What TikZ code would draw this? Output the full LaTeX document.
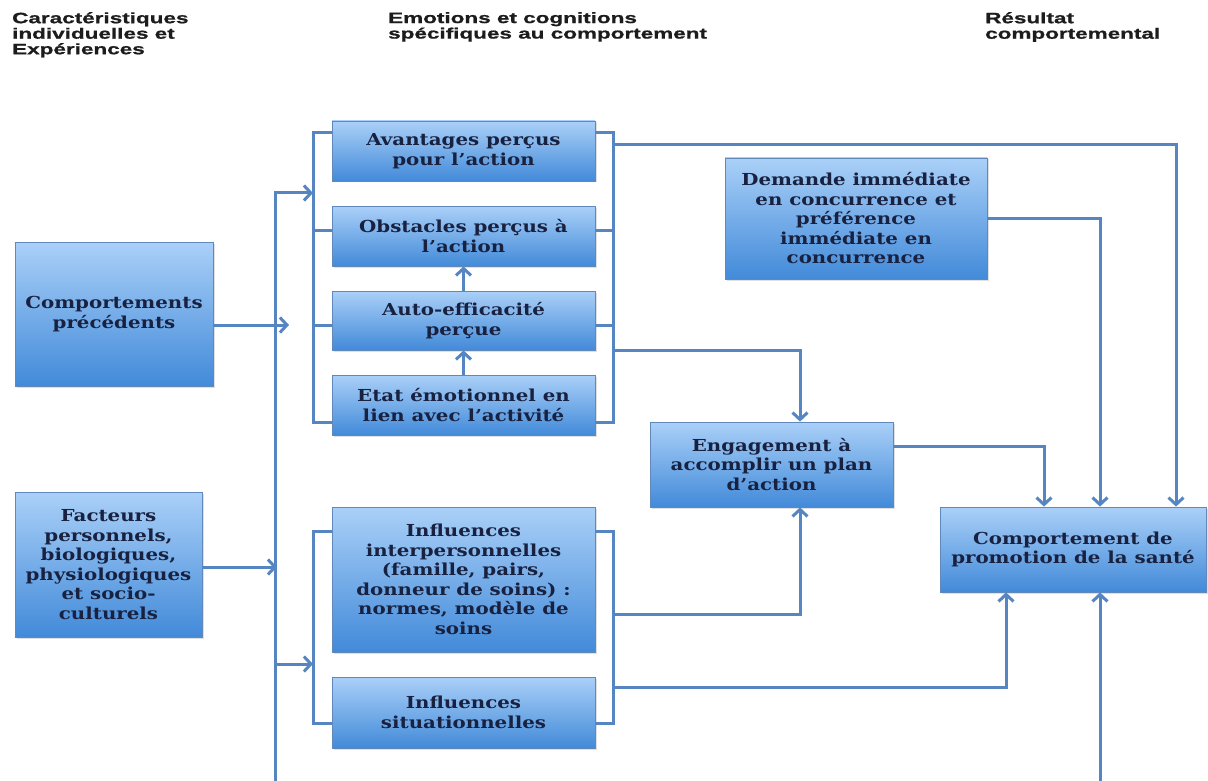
\documentclass[tikz,border=0pt]{standalone}
\usepackage{fontspec}
\usetikzlibrary{arrows.meta,shadows,calc}
\newfontfamily\headfont[FakeStretch=1.5,FakeBold=0.8]{Liberation Sans}
\newfontfamily\boxfont[FakeStretch=1.2]{DejaVu Serif}
\definecolor{boxtop}{RGB}{170,208,248}
\definecolor{boxbot}{RGB}{66,138,217}
\definecolor{boxedge}{RGB}{96,136,186}
\definecolor{boxtext}{RGB}{24,33,64}
\definecolor{link}{RGB}{86,134,194}
\definecolor{headtext}{RGB}{28,28,28}

\begin{document}
\begin{tikzpicture}[x=1pt,y=-1pt,
  box/.style={draw=boxedge, line width=0.8pt, top color=boxtop, bottom color=boxbot,
    align=center, inner sep=0pt, text=boxtext,
    font=\boxfont\bfseries\fontsize{16.5}{19.5}\selectfont,
    drop shadow={opacity=0.25, shadow xshift=1.5pt, shadow yshift=-1.5pt}},
  head/.style={anchor=north west, align=left, inner sep=0pt, text=headtext,
    font=\headfont\bfseries\fontsize{15}{15.5}\selectfont},
  conn/.style={draw=link, line width=3pt},
  arr/.style={conn, -{Straight Barb[length=7pt,width=15pt]}},
]
\fill[white] (0,0) rectangle (1208,781);
\useasboundingbox (0,0) rectangle (1208,781);

% column headings
\node[head] (h1) at (12,12) {Caractéristiques\\individuelles et\\Expériences};
\node[head] (h2) at (388,12) {Emotions et cognitions\\spécifiques au comportement};
\node[head] (h3) at (985,12) {Résultat\\comportemental};

% left column
\node[box, minimum width=198pt, minimum height=144pt] (prev) at (114,314)
  {Comportements\\précédents};
\node[box, minimum width=187pt, minimum height=145pt] (fact) at (108.5,564.5)
  {Facteurs\\personnels,\\biologiques,\\physiologiques\\et socio-\\culturels};

% middle column
\node[box, minimum width=263pt, minimum height=60pt] (avant) at (463.5,151)
  {Avantages perçus\\pour l’action};
\node[box, minimum width=263pt, minimum height=60pt] (obst) at (463.5,236)
  {Obstacles perçus à\\l’action};
\node[box, minimum width=263pt, minimum height=59pt] (auto) at (463.5,320.5)
  {Auto-efficacité\\perçue};
\node[box, minimum width=263pt, minimum height=60pt] (etat) at (463.5,405)
  {Etat émotionnel en\\lien avec l’activité};
\node[box, minimum width=263pt, minimum height=145pt] (interp) at (463.5,579.5)
  {Influences\\interpersonnelles\\(famille, pairs,\\donneur de soins) :\\normes, modèle de\\soins};
\node[box, minimum width=263pt, minimum height=71pt] (situ) at (463.5,712.5)
  {Influences\\situationnelles};

% right part
\node[box, minimum width=262pt, minimum height=121pt] (dem) at (856,218.5)
  {Demande immédiate\\en concurrence et\\préférence\\immédiate en\\concurrence};
\node[box, minimum width=243pt, minimum height=85pt] (eng) at (771.5,464.5)
  {Engagement à\\accomplir un plan\\d’action};
\node[box, minimum width=266pt, minimum height=85pt] (comp) at (1073,549.5)
  {Comportement de\\promotion de la santé};

% junction points
\coordinate (trunkfoot) at (275,781);
\coordinate (trunktop) at (275,193);
\coordinate (resfoot) at (1100,781);

% feed trunk
\draw[arr] (trunkfoot) -- (trunktop) -- (313,193);
\draw[arr] (prev.east |- 0,325) -- (289,325);
\draw[arr] (fact.east |- 0,567) -- (277,567);
\draw[arr] (275,664) -- (313,664);

% upper brackets
\draw[conn] (avant.west |- 0,133) -| (313,422) -- (etat.west |- 0,422);
\draw[conn] (313,230) -- (obst.west |- 0,230);
\draw[conn] (313,325) -- (auto.west |- 0,325);
\draw[conn] (avant.east |- 0,133) -| (613,422) -- (etat.east |- 0,422);
\draw[conn] (obst.east |- 0,230) -- (613,230);
\draw[conn] (auto.east |- 0,325) -- (613,325);

% lower brackets
\draw[conn] (interp.west |- 0,531) -| (313,723) -- (situ.west |- 0,723);
\draw[conn] (interp.east |- 0,531) -| (613,723) -- (situ.east |- 0,723);

% links inside the middle column
\draw[arr] (etat.north) -- (auto.south);
\draw[arr] (auto.north) -- (obst.south);

% links to the outcome
\draw[arr] (613,145) -| (1176,0 |- comp.north);
\draw[arr] (613,350) -| (800,0 |- eng.north);
\draw[arr] (613,614) -| (800,0 |- eng.south);
\draw[arr] (613,687) -| (1006,0 |- comp.south);
\draw[arr] (dem.east) -| (1100,0 |- comp.north);
\draw[arr] (eng.east |- 0,446) -| (1044,0 |- comp.north);
\draw[arr] (resfoot) -- (1100,0 |- comp.south);
\end{tikzpicture}
\end{document}
